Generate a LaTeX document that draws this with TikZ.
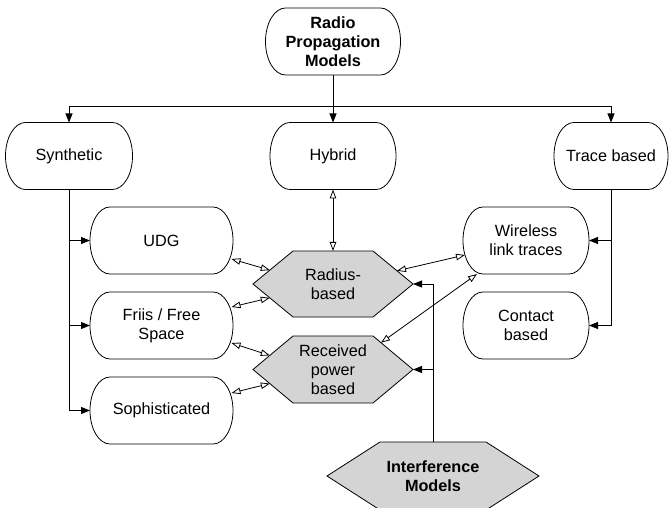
\documentclass[tikz,border=0pt]{standalone}
\usepackage{fontspec}
\setmainfont{Liberation Sans}
\usetikzlibrary{arrows.meta,calc}

\definecolor{hexgray}{RGB}{212,212,212}

\tikzset{
  lbl/.style={font=\fontsize{16.3}{19}\selectfont, align=center, inner sep=0pt, outer sep=0pt},
  outline/.style={draw=black, line width=0.8bp},
  hexfill/.style={outline, fill=hexgray},
  wire/.style={line width=0.8bp},
  tree/.style={wire, -{Triangle[length=9bp,width=7bp]}},
  link/.style={wire, {Triangle[open,length=9bp,width=6.5bp]}-{Triangle[open,length=9bp,width=6.5bp]}},
}

% pill-shaped box: name, x, y, width, height, text
\newcommand\pillbox[6]{%
  \node[lbl, minimum width=#4bp, minimum height=#5bp] (#1) at (#2,-#3) {#6};
  \draw[outline] ([xshift=20bp]#1.north west) -- ([xshift=-20bp]#1.north east)
    arc[start angle=90, end angle=-90, x radius=20bp, y radius=#5bp/2]
    -- ([xshift=20bp]#1.south west)
    arc[start angle=270, end angle=90, x radius=20bp, y radius=#5bp/2] -- cycle;
}

% flat hexagon: name, x, y, width, height, inset, text
\newcommand\hexbox[7]{%
  \filldraw[hexfill]
    ({#2-#4/2},{-#3}) coordinate (#1-w)
    -- ({#2-#4/2+#6},{-#3+#5/2}) coordinate (#1-nw)
    -- ({#2+#4/2-#6},{-#3+#5/2}) coordinate (#1-ne)
    -- ({#2+#4/2},{-#3}) coordinate (#1-e)
    -- ({#2+#4/2-#6},{-#3-#5/2}) coordinate (#1-se)
    -- ({#2-#4/2+#6},{-#3-#5/2}) coordinate (#1-sw)
    -- cycle;
  \node[lbl, minimum width=#4bp, minimum height=#5bp] (#1) at (#2,-#3) {#7};
}

\begin{document}
\begin{tikzpicture}[x=1bp,y=1bp]
  \useasboundingbox (0,0) rectangle (669,-508);

  % boxes
  \pillbox{root}{333}{41.5}{135}{67}{\bfseries Radio\\\bfseries Propagation\\\bfseries Models}
  \pillbox{syn}{69}{156}{127}{67}{Synthetic}
  \pillbox{hyb}{333}{156}{126}{67}{Hybrid}
  \pillbox{trc}{611}{156}{114}{67}{Trace based}

  \pillbox{udg}{161.5}{240.5}{143}{67}{UDG}
  \pillbox{fri}{161.5}{325.5}{143}{67}{Friis / Free\\Space}
  \pillbox{sop}{161.5}{410.5}{143}{67}{Sophisticated}

  \pillbox{wir}{526}{240.5}{126}{67}{Wireless\\link traces}
  \pillbox{con}{526}{325.5}{126}{67}{Contact\\based}

  \hexbox{rad}{333}{284}{160}{66}{40}{Radius-\\based}
  \hexbox{rec}{333}{369.5}{160}{67}{40}{Received\\power\\based}
  \hexbox{intf}{433}{476}{212}{68}{53}{\bfseries Interference\\\bfseries Models}

  % hierarchy
  \coordinate (bus) at (0,-106);
  \draw[wire] (root.south) -- (root.south |- bus);
  \draw[tree] (root.south |- bus) -| (syn.north);
  \draw[tree] (root.south |- bus) -| (trc.north);
  \draw[tree] (root.south) -- (hyb.north);

  \draw[wire] (syn.south) -- (syn.south |- sop);
  \draw[tree] (syn.south |- udg) -- (udg.west);
  \draw[tree] (syn.south |- fri) -- (fri.west);
  \draw[tree] (syn.south |- sop) -- (sop.west);

  \draw[wire] (trc.south) -- (trc.south |- con);
  \draw[tree] (trc.south |- wir) -- (wir.east);
  \draw[tree] (trc.south |- con) -- (con.east);

  \draw[wire] (intf.north) -- (intf.north |- rad-e);
  \draw[tree] (intf.north |- rad-e) -- (rad-e);
  \draw[tree] (intf.north |- rec-e) -- (rec-e);

  % two-way relations
  \draw[link] (hyb.south) -- (rad.north);
  \draw[link] ([shift={(70,-18.5)}]udg.center) -- ($(rad-w)!0.42!(rad-nw)$);
  \draw[link] ([shift={(70,18.5)}]fri.center) -- ($(rad-w)!0.42!(rad-sw)$);
  \draw[link] ([shift={(70,-17.5)}]fri.center) -- ($(rec-w)!0.42!(rec-nw)$);
  \draw[link] ([shift={(70,17.5)}]sop.center) -- ($(rec-w)!0.42!(rec-sw)$);
  \draw[link] ([shift={(-61,-14.5)}]wir.center) -- ($(rad-e)!0.4!(rad-ne)$);
  \draw[link] ([shift={(-49,-33.5)}]wir.center) -- ($(rec-e)!0.8!(rec-ne)$);
\end{tikzpicture}
\end{document}
